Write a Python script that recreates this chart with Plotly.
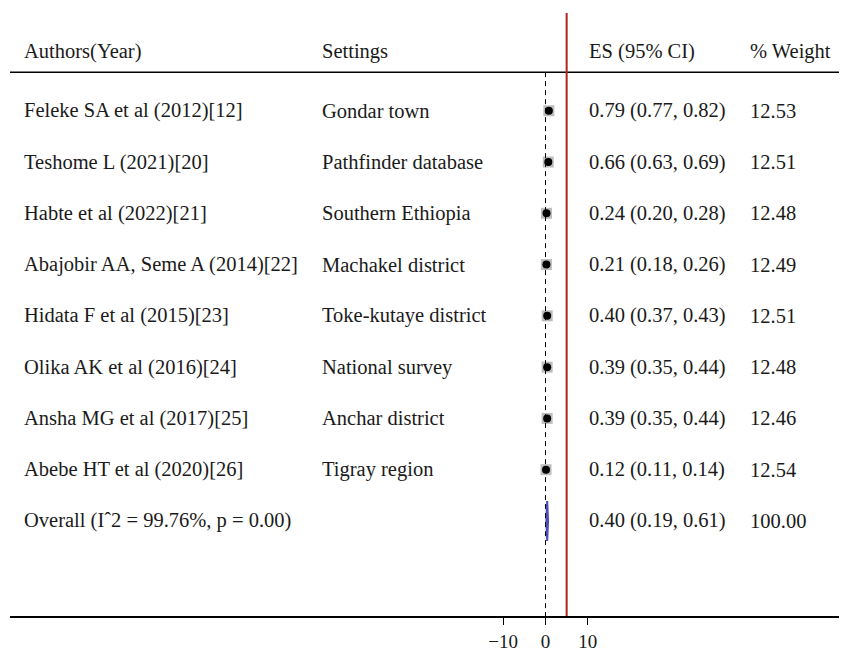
import plotly.graph_objects as go

authors = ["Feleke SA et al (2012)[12]", "Teshome L (2021)[20]", "Habte et al (2022)[21]",
           "Abajobir AA, Seme A (2014)[22]", "Hidata F et al (2015)[23]", "Olika AK et al (2016)[24]",
           "Ansha MG et al (2017)[25]", "Abebe HT et al (2020)[26]"]
settings = ["Gondar town", "Pathfinder database", "Southern Ethiopia", "Machakel district",
            "Toke-kutaye district", "National survey", "Anchar district", "Tigray region"]
es = [0.79, 0.66, 0.24, 0.21, 0.40, 0.39, 0.39, 0.12]
lo = [0.77, 0.63, 0.20, 0.18, 0.37, 0.35, 0.35, 0.11]
hi = [0.82, 0.69, 0.28, 0.26, 0.43, 0.44, 0.44, 0.14]
weights = [12.53, 12.51, 12.48, 12.49, 12.51, 12.48, 12.46, 12.54]
overall_label = "Overall (Iˆ2 = 99.76%, p = 0.00)"
overall_es, overall_lo, overall_hi, overall_w = 0.40, 0.19, 0.61, 100.00
headers = ["Authors(Year)", "Settings", "ES (95% CI)", "% Weight"]
x_ticks = [-10, 0, 10]
x_ticktext = ["\u221210", "0", "10"]
ref_line_x = 5

FONT = "Liberation Serif"
FS = 20.5
TXT = "#1a1a1a"
n = len(authors)
rows = [-i for i in range(n)]
overall_y = -n

fig = go.Figure()

# weight boxes with (tiny) confidence intervals
fig.add_trace(go.Scatter(x=es, y=rows, mode="markers",
                         marker=dict(symbol="square", size=11, color="#bdbdbd", line=dict(width=0)),
                         error_x=dict(type="data", symmetric=False,
                                      array=[h - e for h, e in zip(hi, es)],
                                      arrayminus=[e - l for e, l in zip(es, lo)],
                                      color="black", thickness=1, width=0),
                         hoverinfo="skip", showlegend=False))
fig.add_trace(go.Scatter(x=es, y=rows, mode="markers",
                         marker=dict(symbol="circle", size=8, color="black"),
                         hoverinfo="skip", showlegend=False))
# overall diamond
h = 0.39
fig.add_trace(go.Scatter(x=[overall_lo, overall_es, overall_hi, overall_es, overall_lo],
                         y=[overall_y, overall_y + h, overall_y, overall_y - h, overall_y],
                         mode="lines", fill="toself", fillcolor="#4a4fb5",
                         line=dict(color="#4a4fb5", width=2),
                         hoverinfo="skip", showlegend=False))

y_top = 2.0035
y_bot = -9.853
header_y = 1.153
header_line_y = 0.753
red_top = 1.907

shapes = [
    dict(type="line", xref="paper", yref="y", x0=0, x1=1, y0=header_line_y, y1=header_line_y,
         line=dict(color="black", width=1.5)),
    dict(type="line", xref="x", yref="y", x0=0, x1=0, y0=header_line_y, y1=y_bot,
         line=dict(color="black", width=1, dash="5px,4px")),
    dict(type="line", xref="x", yref="y", x0=ref_line_x, x1=ref_line_x, y0=red_top, y1=y_bot,
         line=dict(color="#b22222", width=2)),
]

# page has an 8px body margin; work in figure pixels
W, H = 839, 644
ml, mr, mt, mb = 2, 0, 0, 30
pw = W - ml - mr
col_x = [13.5, 312, 579, 740]

def px2paper(p):
    return (p - ml) / pw

annotations = []
def txt(x_px, y, s):
    annotations.append(dict(x=px2paper(x_px), xref="paper", y=y, yref="y", text=s,
                            showarrow=False, xanchor="left", yanchor="middle",
                            font=dict(family=FONT, size=FS, color=TXT)))

for cx, hd in zip(col_x, headers):
    txt(cx, header_y, hd)
for i in range(n):
    txt(col_x[0], rows[i], authors[i])
    txt(col_x[1], rows[i], settings[i])
    txt(col_x[2], rows[i], f"{es[i]:.2f} ({lo[i]:.2f}, {hi[i]:.2f})")
    txt(col_x[3], rows[i], f"{weights[i]:.2f}")
txt(col_x[0], overall_y, overall_label)
txt(col_x[2], overall_y, f"{overall_es:.2f} ({overall_lo:.2f}, {overall_hi:.2f})")
txt(col_x[3], overall_y, f"{overall_w:.2f}")

# x range: zero at figure pixel 537.5, 10 units = 42.3 px
zero_px = 537.5
scale = 4.23
x0 = (ml - zero_px) / scale
x1 = (W - mr - zero_px) / scale

fig.update_layout(
    width=W, height=H,
    margin=dict(l=ml, r=mr, t=mt, b=mb, pad=0),
    paper_bgcolor="white", plot_bgcolor="white",
    shapes=shapes, annotations=annotations,
    xaxis=dict(range=[x0, x1], showgrid=False, zeroline=False, showline=True,
               linecolor="black", linewidth=1.5, ticks="outside", ticklen=7,
               tickcolor="black", tickwidth=1, tickvals=x_ticks, ticktext=x_ticktext,
               tickfont=dict(family=FONT, size=19, color=TXT)),
    yaxis=dict(range=[y_bot, y_top], visible=False, showgrid=False, zeroline=False),
    showlegend=False,
)

fig.write_html("out.html")
